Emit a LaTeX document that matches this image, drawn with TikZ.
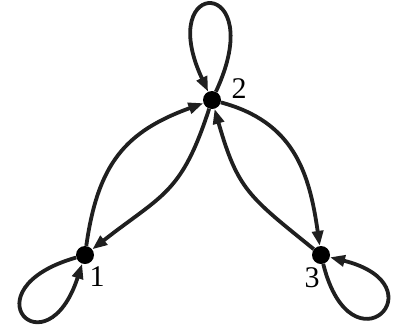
\documentclass[tikz,border=0pt]{standalone}
\usepackage{fontspec}
\setmainfont{Liberation Serif}
\usepackage{tikz}
\usetikzlibrary{positioning,arrows.meta}

\begin{document}
\begin{tikzpicture}[x=1pt, y=-1pt,
    vert/.style={circle, fill=black, inner sep=0pt, minimum size=18pt},
    lbl/.style={inner sep=0pt, font=\fontsize{30}{30}\selectfont},
    edge/.style={line width=3.8pt, draw=black!88, -{Triangle[length=15pt,width=11pt]}}]
  \useasboundingbox (0,0) rectangle (394,325);
  % vertices
  \node[vert] (n1) at (85,255) {};
  \node[vert] (n2) at (212,100) {};
  \node[vert] (n3) at (321,255) {};
  \node[lbl] (t1) at (97,277) {1};
  \node[lbl] (t2) at (239,89) {2};
  \node[lbl] (t3) at (312,278) {3};
  % arcs between vertices
  \draw[edge] (n1) to[out=82, in=200, looseness=1.15] (n2);
  \draw[edge] (n2) to[out=252, in=38, looseness=1.25] (n1);
  \draw[edge] (n2) to[out=345, in=98, looseness=1.1] (n3);
  \draw[edge] (n3) to[out=141, in=286, looseness=1.25] (n2);
  % loops
  \draw[edge] (n2) to[out=65, in=115, min distance=128pt] (n2);
  \draw[edge] (n1) to[out=196, in=252, min distance=116pt] (n1);
  \draw[edge] (n3) to[out=284, in=346, min distance=116pt] (n3);
\end{tikzpicture}
\end{document}
